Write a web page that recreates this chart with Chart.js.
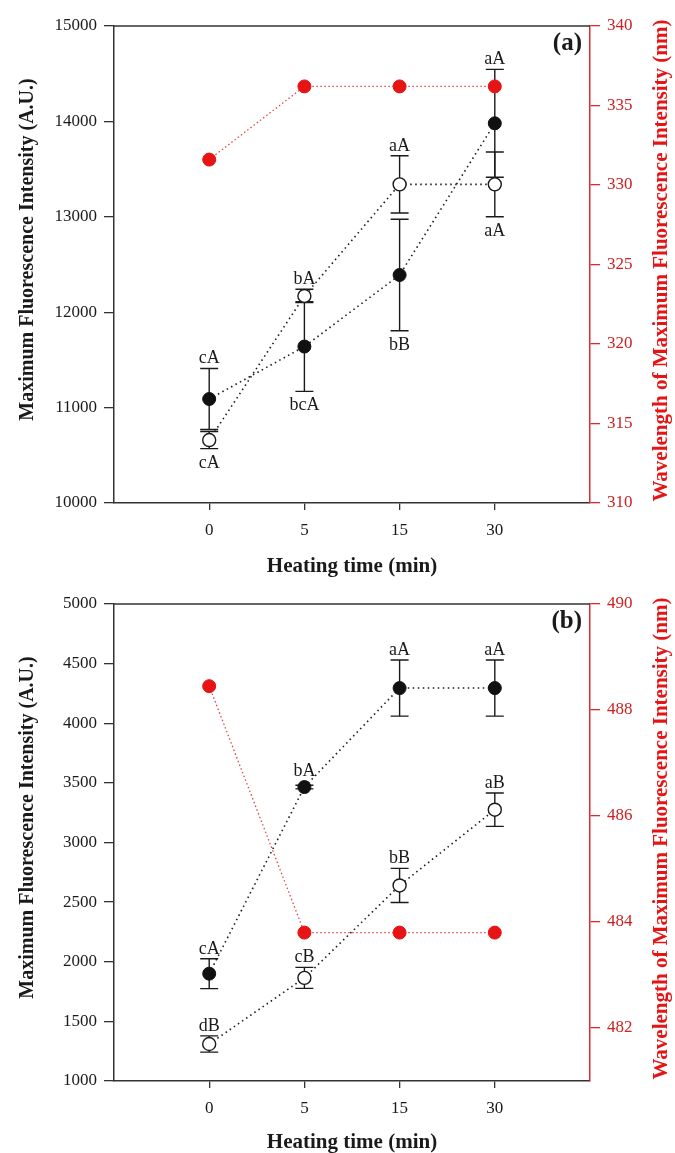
<!DOCTYPE html>
<html>
<head>
<meta charset="utf-8">
<script src="https://cdn.jsdelivr.net/npm/chart.js@4.4.0/dist/chart.umd.min.js"></script>
<style>
  body { margin: 0; background: #fff; }
  canvas { display: block; }
</style>
</head>
<body>
<canvas id="chartA" width="675" height="577"></canvas>
<canvas id="chartB" width="675" height="576"></canvas>
<script>
// heating time categories, put at positions 1..4 on a 0..5 linear axis
const heatingTimes = ['0', '5', '15', '30'];

// panel (a)
const aFilled = [11090, 11640, 12390, 13980];
const aFilledErr = [320, 470, 585, 565];
const aFilledLetters = ['cA', 'bcA', 'bB', 'aA'];
const aFilledSide = ['above', 'below', 'below', 'above'];
const aOpen = [10660, 12170, 13340, 13340];
const aOpenErr = [90, 70, 300, 340];
const aOpenLetters = ['cA', 'bA', 'aA', 'aA'];
const aOpenSide = ['below', 'above', 'above', 'below'];
const aWavelength = [331.6, 336.2, 336.2, 336.2];
const aLeftTicks = [10000, 11000, 12000, 13000, 14000, 15000];
const aRightTicks = [310, 315, 320, 325, 330, 335, 340];

// panel (b)
const bFilled = [1900, 3465, 4295, 4295];
const bFilledErr = [125, 15, 235, 235];
const bFilledLetters = ['cA', 'bA', 'aA', 'aA'];
const bFilledSide = ['above', 'above', 'above', 'above'];
const bOpen = [1310, 1865, 2640, 3275];
const bOpenErr = [68, 88, 143, 140];
const bOpenLetters = ['dB', 'cB', 'bB', 'aB'];
const bOpenSide = ['above', 'above', 'above', 'above'];
const bWavelength = [488.45, 483.8, 483.8, 483.8];
const bLeftTicks = [1000, 1500, 2000, 2500, 3000, 3500, 4000, 4500, 5000];
const bRightTicks = [482, 484, 486, 488, 490];

const FONT = 'Liberation Serif';
const INK = '#1a1a1a';
const AXIS = '#333';
const RED = '#e61414';
const RED_AXIS = '#dd2a2a';

function points(values) {
  return values.map((v, i) => ({ x: i + 1, y: v }));
}

// error bars, letters, top frame, panel tag and the two vertical titles
const extrasPlugin = {
  id: 'extras',
  beforeDatasetsDraw(chart) {
    const ctx = chart.ctx;
    const xs = chart.scales.x;
    chart.data.datasets.forEach(ds => {
      if (!ds.errors) return;
      const ys = chart.scales[ds.yAxisID];
      ctx.save();
      ctx.strokeStyle = INK;
      ctx.lineWidth = 1.4;
      ds.data.forEach((p, j) => {
        const x = xs.getPixelForValue(p.x);
        const y1 = ys.getPixelForValue(p.y + ds.errors[j]);
        const y2 = ys.getPixelForValue(p.y - ds.errors[j]);
        ctx.beginPath();
        ctx.moveTo(x, y1); ctx.lineTo(x, y2);
        ctx.moveTo(x - 9, y1); ctx.lineTo(x + 9, y1);
        ctx.moveTo(x - 9, y2); ctx.lineTo(x + 9, y2);
        ctx.stroke();
      });
      ctx.restore();
    });
  },
  afterDatasetsDraw(chart) {
    const ctx = chart.ctx;
    const xs = chart.scales.x;
    chart.data.datasets.forEach(ds => {
      if (!ds.letters) return;
      const ys = chart.scales[ds.yAxisID];
      const r = ds.pointRadius;
      ctx.save();
      ctx.fillStyle = INK;
      ctx.font = '18px "' + FONT + '"';
      ctx.textAlign = 'center';
      ctx.textBaseline = 'alphabetic';
      ds.data.forEach((p, j) => {
        const x = xs.getPixelForValue(p.x);
        const c = ys.getPixelForValue(p.y);
        if (ds.sides[j] === 'above') {
          const top = Math.min(ys.getPixelForValue(p.y + ds.errors[j]), c - r);
          ctx.fillText(ds.letters[j], x, top - 5);
        } else {
          const bot = Math.max(ys.getPixelForValue(p.y - ds.errors[j]), c + r);
          ctx.fillText(ds.letters[j], x, bot + 19);
        }
      });
      ctx.restore();
    });
  },
  afterDraw(chart, args, opts) {
    const ctx = chart.ctx;
    const a = chart.chartArea;
    const mid = (a.top + a.bottom) / 2;
    ctx.save();
    // top frame line
    ctx.strokeStyle = AXIS;
    ctx.lineWidth = 1.5;
    ctx.beginPath();
    ctx.moveTo(a.left, a.top);
    ctx.lineTo(a.right, a.top);
    ctx.stroke();
    // panel tag
    ctx.fillStyle = INK;
    ctx.font = 'bold 25px "' + FONT + '"';
    ctx.textAlign = 'right';
    ctx.textBaseline = 'middle';
    ctx.fillText(opts.tag, a.right - 8, a.top + 18);
    ctx.textAlign = 'center';
    // left axis title
    ctx.save();
    ctx.font = 'bold 20px "' + FONT + '"';
    ctx.translate(28, mid - 15);
    ctx.rotate(-Math.PI / 2);
    ctx.fillText(opts.leftTitle, 0, 0);
    ctx.restore();
    // right axis title, also reading upwards
    ctx.fillStyle = RED;
    ctx.font = 'bold 21px "' + FONT + '"';
    ctx.translate(662, mid - 4);
    ctx.rotate(-Math.PI / 2);
    ctx.fillText(opts.rightTitle, 0, 0);
    ctx.restore();
  }
};

function makeChart(id, p) {
  const tickFont = { family: FONT, size: 17 };
  return new Chart(document.getElementById(id), {
    type: 'line',
    data: {
      datasets: [
        {
          data: points(p.wavelength),
          yAxisID: 'y1',
          borderColor: '#e04848',
          borderWidth: 1.3,
          borderDash: [1.5, 2.5],
          backgroundColor: RED,
          pointBackgroundColor: RED,
          pointBorderColor: RED,
          pointRadius: 6.5,
          pointBorderWidth: 1
        },
        {
          data: points(p.open),
          errors: p.openErr,
          letters: p.openLetters,
          sides: p.openSide,
          yAxisID: 'y',
          borderColor: INK,
          borderWidth: 1.6,
          borderDash: [1.5, 3.5],
          pointBackgroundColor: '#fff',
          pointBorderColor: INK,
          pointRadius: 6.5,
          pointBorderWidth: 1.4
        },
        {
          data: points(p.filled),
          errors: p.filledErr,
          letters: p.filledLetters,
          sides: p.filledSide,
          yAxisID: 'y',
          borderColor: INK,
          borderWidth: 1.6,
          borderDash: [1.5, 3.5],
          pointBackgroundColor: '#111',
          pointBorderColor: '#111',
          pointRadius: 6.5,
          pointBorderWidth: 1
        }
      ]
    },
    options: {
      responsive: false,
      animation: false,
      layout: { padding: { top: p.padTop, left: 0, right: 0, bottom: 0 } },
      plugins: {
        legend: { display: false },
        tooltip: { enabled: false },
        extras: {
          tag: p.tag,
          leftTitle: 'Maximum Fluorescence Intensity (A.U.)',
          rightTitle: 'Wavelength of Maximum Fluorescence Intensity (nm)'
        }
      },
      scales: {
        x: {
          type: 'linear',
          min: 0,
          max: 5,
          afterBuildTicks: s => { s.ticks = [1, 2, 3, 4].map(v => ({ value: v })); },
          afterFit: s => { s.height = p.xHeight; },
          ticks: {
            callback: v => heatingTimes[v - 1],
            font: tickFont, color: INK, padding: 10, maxRotation: 0, autoSkip: false
          },
          grid: { drawOnChartArea: false, tickLength: 7, color: AXIS, lineWidth: 1.3 },
          border: { color: AXIS, width: 1.5 },
          title: {
            display: true, text: 'Heating time (min)', color: INK,
            font: { family: FONT, size: 21, weight: 'bold', lineHeight: 1 },
            padding: { top: 0, bottom: 0 }
          }
        },
        y: {
          position: 'left',
          min: p.leftTicks[0],
          max: p.leftTicks[p.leftTicks.length - 1],
          afterBuildTicks: s => { s.ticks = p.leftTicks.map(v => ({ value: v })); },
          afterFit: s => { s.width = 114; },
          ticks: { font: tickFont, color: INK, padding: 7, callback: v => String(v) },
          grid: { drawOnChartArea: false, tickLength: 10, color: AXIS, lineWidth: 1.3 },
          border: { color: AXIS, width: 1.5 }
        },
        y1: {
          position: 'right',
          min: p.rightMin,
          max: p.rightTicks[p.rightTicks.length - 1],
          afterBuildTicks: s => { s.ticks = p.rightTicks.map(v => ({ value: v })); },
          afterFit: s => { s.width = 85; },
          ticks: { font: tickFont, color: '#cc2222', padding: 7, callback: v => String(v) },
          grid: { drawOnChartArea: false, tickLength: 10, color: RED_AXIS, lineWidth: 1.3 },
          border: { color: RED_AXIS, width: 1.5 }
        }
      }
    },
    plugins: [extrasPlugin]
  });
}

makeChart('chartA', {
  tag: '(a)', padTop: 26, xHeight: 74,
  filled: aFilled, filledErr: aFilledErr, filledLetters: aFilledLetters, filledSide: aFilledSide,
  open: aOpen, openErr: aOpenErr, openLetters: aOpenLetters, openSide: aOpenSide,
  wavelength: aWavelength, leftTicks: aLeftTicks, rightTicks: aRightTicks, rightMin: 310
});

makeChart('chartB', {
  tag: '(b)', padTop: 27, xHeight: 72,
  filled: bFilled, filledErr: bFilledErr, filledLetters: bFilledLetters, filledSide: bFilledSide,
  open: bOpen, openErr: bOpenErr, openLetters: bOpenLetters, openSide: bOpenSide,
  wavelength: bWavelength, leftTicks: bLeftTicks, rightTicks: bRightTicks, rightMin: 481
});
</script>
</body>
</html>
